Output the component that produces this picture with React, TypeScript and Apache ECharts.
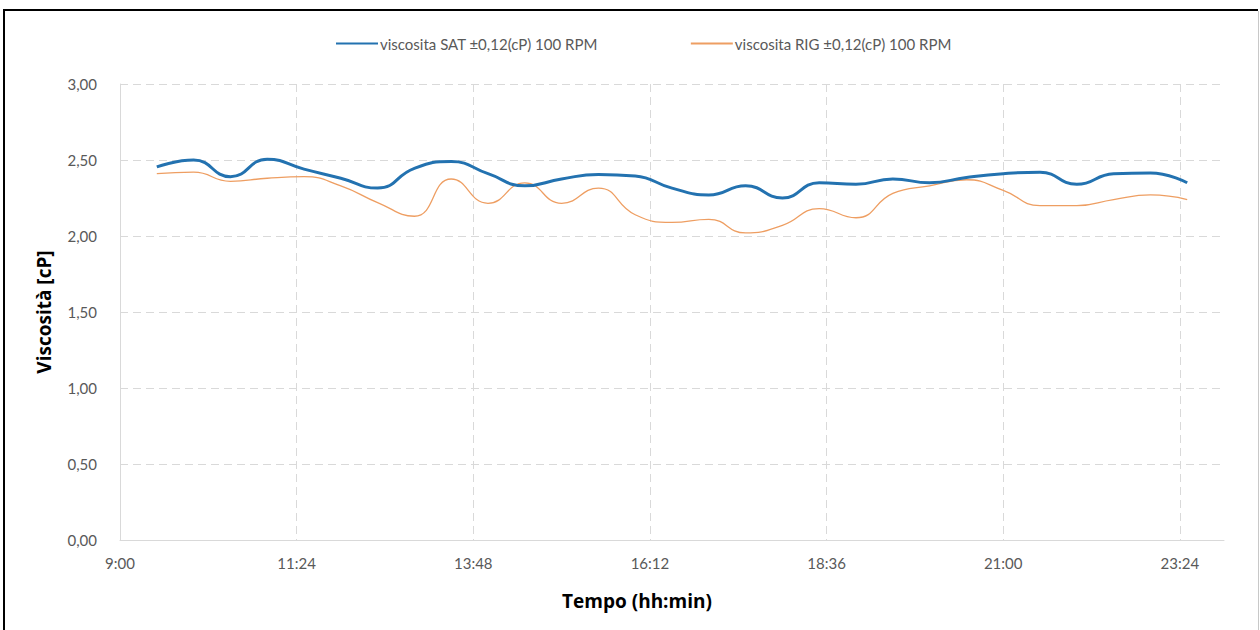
import React, { useEffect, useRef } from "react";
import * as echarts from "echarts";

const times = [
  "9:30", "10:00", "10:30", "11:00", "11:30", "12:00", "12:30", "13:00", "13:30", "14:00",
  "14:30", "15:00", "15:30", "16:00", "16:30", "17:00", "17:30", "18:00", "18:30", "19:00",
  "19:30", "20:00", "20:30", "21:00", "21:30", "22:00", "22:30", "23:00", "23:30",
];
const satValues = [
  2.455, 2.5, 2.39, 2.505, 2.44, 2.38, 2.315, 2.445, 2.49, 2.41,
  2.33, 2.375, 2.405, 2.395, 2.315, 2.27, 2.33, 2.25, 2.35, 2.34,
  2.375, 2.35, 2.385, 2.41, 2.42, 2.34, 2.41, 2.415, 2.35,
];
const rigValues = [
  2.41, 2.42, 2.36, 2.38, 2.39, 2.33, 2.22, 2.13, 2.375, 2.215,
  2.35, 2.215, 2.315, 2.14, 2.09, 2.11, 2.02, 2.07, 2.18, 2.12,
  2.28, 2.33, 2.37, 2.3, 2.2, 2.2, 2.24, 2.27, 2.24,
];
const seriesNames = ["viscosita SAT ±0,12(cP) 100 RPM", "viscosita RIG ±0,12(cP) 100 RPM"];
const xTitle = "Tempo (hh:min)";
const yTitle = "Viscosità [cP]";

const toMin = (t: string) => {
  const [h, m] = t.split(":").map(Number);
  return h * 60 + m;
};
const fmtTime = (v: number) => {
  const h = Math.floor(v / 60);
  const m = Math.round(v - h * 60);
  return `${h}:${m < 10 ? "0" + m : m}`;
};

export default function App() {
  const ref = useRef<HTMLDivElement>(null);
  useEffect(() => {
    if (!ref.current) return;
    const chart = echarts.init(ref.current, null, { renderer: "svg" });
    const font = "Lato, 'Open Sans', sans-serif";
    const titleFont = "'Open Sans', Lato, sans-serif";
    const gridColor = "#d9d9d9";
    chart.setOption({
      animation: false,
      backgroundColor: "#ffffff",
      textStyle: { fontFamily: font },
      legend: {
        top: 31,
        left: 330,
        itemWidth: 42,
        itemHeight: 3,
        itemGap: 92,
        itemStyle: { opacity: 0 },
        textStyle: { color: "#595959", fontSize: 15, fontFamily: font, padding: [0, 0, 0, -3] },
        data: seriesNames,
      },
      grid: { left: 120, right: 36, top: 84, bottom: 90, containLabel: false },
      xAxis: {
        type: "value",
        min: 540,
        max: 1440,
        interval: 144,
        axisLine: { show: true, lineStyle: { color: gridColor, width: 1 } },
        axisTick: { show: false },
        axisLabel: {
          color: "#595959",
          fontSize: 15,
          margin: 15,
          showMaxLabel: false,
          formatter: (v: number) => fmtTime(v),
        },
        splitLine: {
          show: true,
          showMinLine: false,
          showMaxLine: false,
          lineStyle: { color: gridColor, type: [8, 5], width: 1 },
        },
      },
      yAxis: {
        type: "value",
        min: 0,
        max: 3,
        interval: 0.5,
        name: yTitle,
        nameLocation: "middle",
        nameGap: 67,
        nameTextStyle: { fontSize: 19, fontWeight: "bold", color: "#000", fontFamily: titleFont },
        axisLine: { show: true, lineStyle: { color: gridColor, width: 1 } },
        axisTick: { show: false },
        axisLabel: {
          color: "#595959",
          fontSize: 15,
          margin: 23,
          formatter: (v: number) => v.toFixed(2).replace(".", ","),
        },
        splitLine: {
          show: true,
          showMinLine: false,
          lineStyle: { color: gridColor, type: [8, 5], width: 1 },
        },
      },
      graphic: [
        { type: "line", shape: { x1: 4, y1: 10, x2: 1258, y2: 10 }, style: { stroke: "#000", lineWidth: 2 } },
        { type: "line", shape: { x1: 4, y1: 9, x2: 4, y2: 630 }, style: { stroke: "#000", lineWidth: 2 } },
        { type: "line", shape: { x1: 1258.5, y1: 11, x2: 1258.5, y2: 630 }, style: { stroke: "#c8c8c8", lineWidth: 1 } },
        {
          type: "text",
          x: 637,
          y: 601,
          style: {
            text: xTitle,
            fontSize: 19,
            fontWeight: "bold",
            fontFamily: titleFont,
            fill: "#000",
            align: "center",
            verticalAlign: "middle",
          },
        },
      ],
      series: [
        {
          name: seriesNames[0],
          type: "line",
          smooth: 0.5,
          symbol: "none",
          data: times.map((t, i) => [toMin(t), satValues[i]]),
          lineStyle: { color: "#2372b0", width: 3 },
          itemStyle: { color: "#2372b0" },
          z: 3,
        },
        {
          name: seriesNames[1],
          type: "line",
          smooth: 0.5,
          symbol: "none",
          data: times.map((t, i) => [toMin(t), rigValues[i]]),
          lineStyle: { color: "#ee9e62", width: 1.3 },
          itemStyle: { color: "#ee9e62" },
          z: 2,
        },
      ],
    });
    return () => chart.dispose();
  }, []);
  return (
    <div
      ref={ref}
      style={{ position: "fixed", left: 0, top: 0, width: 1260, height: 630, background: "#fff" }}
    />
  );
}
